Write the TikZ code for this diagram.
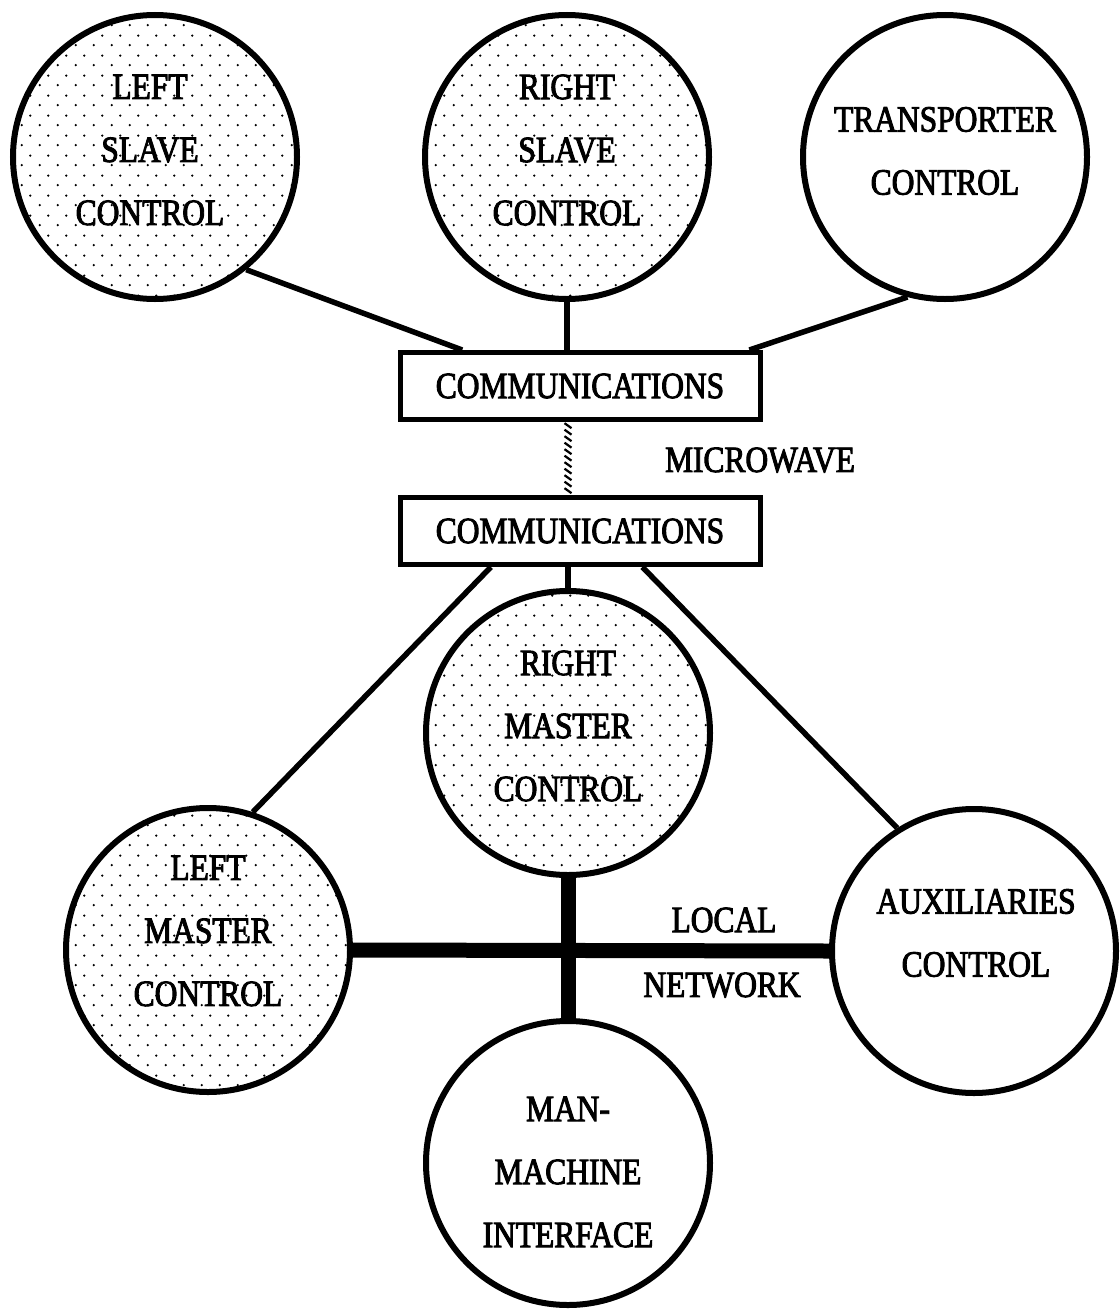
\documentclass[tikz,border=0pt]{standalone}
\usepackage{fontspec}
\setmainfont{Liberation Serif}[FakeStretch=0.85,FakeBold=2.5]
\usetikzlibrary{patterns,decorations.markings,calc}
\pgfdeclarepatternformonly{sdots}{\pgfpointorigin}{\pgfpoint{18pt}{20pt}}{\pgfpoint{18pt}{20pt}}{%
  \pgfpathcircle{\pgfpoint{4pt}{4pt}}{1.3pt}%
  \pgfpathcircle{\pgfpoint{13pt}{14pt}}{1.3pt}%
  \pgfusepath{fill}}
\begin{document}
\begin{tikzpicture}[x=1pt,y=-1pt,
  ball/.style={circle, draw, line width=6pt, minimum size=284pt, inner sep=0pt},
  dball/.style={ball, pattern=sdots, pattern color=black},
  pball/.style={ball, fill=white},
  lbl/.style={align=center, inner sep=0pt, font=\fontsize{37}{63}\selectfont},
  commbox/.style={draw, line width=5pt, minimum width=360pt, minimum height=67pt, inner sep=0pt, fill=white, font=\fontsize{37}{43}\selectfont},
  link/.style={line width=5.5pt},
  bus/.style={line width=15pt},
  wave/.style={decorate, decoration={markings, mark=between positions 0.05 and 0.96 step 6.5pt with {\draw[line width=2.2pt] (-2.5pt,-3.5pt) -- (2.5pt,3.5pt);}}}
]
\useasboundingbox (0,0) rectangle (1119,1309);
\fill[white] (0,0) rectangle (1119,1309);

% circles
\node[dball] (ls) at (155,157) {};
\node[dball] (rs) at (567,157) {};
\node[pball] (tc) at (945,157) {};
\node[dball] (rm) at (568,733) {};
\node[dball] (lm) at (208,950) {};
\node[pball] (aux) at (974,951) {};
\node[pball] (mmi) at (568,1163) {};

% circle texts
\node[lbl] (lsT) at (150,150) {LEFT\\SLAVE\\CONTROL};
\node[lbl] (rsT) at (567,150) {RIGHT\\SLAVE\\CONTROL};
\node[lbl] (tcT) at (945,151) {TRANSPORTER\\CONTROL};
\node[lbl] (rmT) at (568,726) {RIGHT\\MASTER\\CONTROL};
\node[lbl] (lmT) at (208,931) {LEFT\\MASTER\\CONTROL};
\node[lbl] (auxT) at (976,933) {AUXILIARIES\\CONTROL};
\node[lbl] (mmiT) at (568,1172) {MAN-\\MACHINE\\INTERFACE};

% communication boxes
\node[commbox] (comA) at (580,386) {COMMUNICATIONS};
\node[commbox] (comB) at (580,531) {COMMUNICATIONS};

% labels
\node[lbl] (mw) at (760,460) {MICROWAVE};
\node[lbl] (loc) at (724,920) {LOCAL};
\node[lbl] (net) at (722,985) {NETWORK};

% connectors
\draw[link] (ls.-51) -- (comA.163);
\draw[link] (rs.south) -- (rs.south |- comA.north);
\draw[link] (tc.-105) -- (comA.12);
\path[wave] ($(comA.south)+(-12,0)$) -- ($(comB.north)+(-12,0)$);
\draw[link] (comB.-158) -- (lm.72);
\draw[link] (rm.north |- comB.south) -- (rm.north);
\draw[link] (comB.-30) -- (aux.122);

% local network
\draw[bus] (lm.east) -- (aux.west);
\draw[bus] (rm.south) -- (mmi.north);
\end{tikzpicture}
\end{document}
